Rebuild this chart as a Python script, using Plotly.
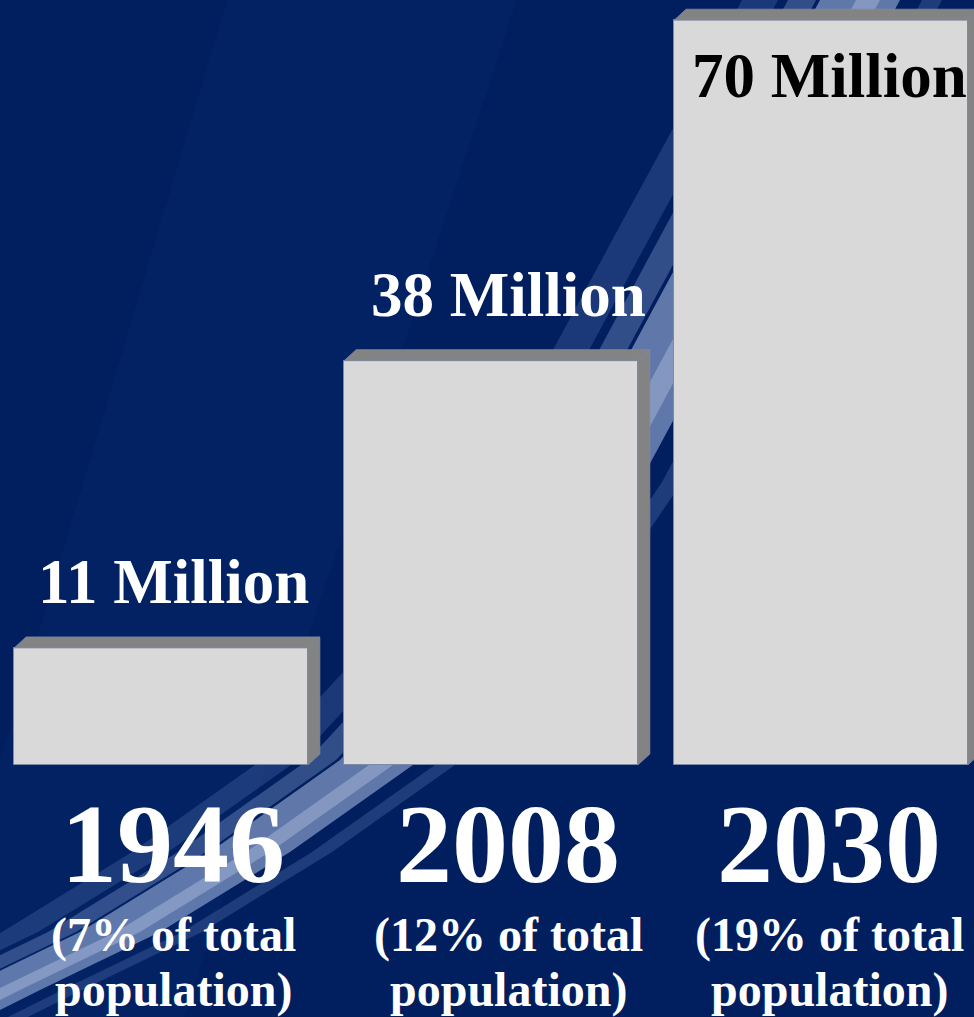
import plotly.graph_objects as go

# ---- data ----
years = ["1946", "2008", "2030"]
values_millions = [11, 38, 70]
value_labels = ["11 Million", "38 Million", "70 Million"]
share_line1 = ["(7% of total", "(12% of total", "(19% of total"]
share_line2 = ["population)", "population)", "population)"]

W, H = 974, 1017
FONT = "Liberation Serif, Times New Roman, serif"
FRONT = "#d9d9d9"
SIDE = "#838383"
BG = "#011f5f"

# axis geometry (pixel scale)
X0_PX, STEP_PX = 161, 330
BASE_PX, PX_PER_UNIT = 765, 10.64
x_range = [-X0_PX / STEP_PX, (W - X0_PX) / STEP_PX]
y_range = [-(H - BASE_PX) / PX_PER_UNIT, BASE_PX / PX_PER_UNIT]
BAR_W = 0.89
DX = 12 / STEP_PX          # depth offset in x units
DY = 11 / PX_PER_UNIT      # depth offset in y units
LABEL_XSHIFT = [12, 17, 8]  # small per-column text nudges (style)

xs = list(range(len(years)))

fig = go.Figure()
fig.add_trace(go.Bar(
    x=xs, y=values_millions, width=BAR_W,
    marker=dict(color=FRONT, line=dict(color="#7d8aa6", width=1)),
    hoverinfo="skip", showlegend=False,
))

shapes = []

def P(px, py):
    return px / W, 1 - py / H

def poly(pts, color):
    d = "M " + " L ".join(f"{a:.4f},{b:.4f}" for a, b in pts) + " Z"
    return dict(type="path", xref="paper", yref="paper", path=d,
                fillcolor=color, line=dict(width=0), layer="below")

def band(center, half_w, color):
    left = [P(x - half_w, y) for x, y in center]
    right = [P(x + half_w, y) for x, y in reversed(center)]
    return poly(left + right, color)

# background swooshes (decoration)
main_c = [(-60, 1020), (0, 990), (120, 932), (250, 852), (380, 760), (500, 630),
          (600, 482), (670, 352), (740, 222), (800, 112), (860, 0), (880, -40)]
shapes.append(poly([P(230, -10), P(520, -10), P(180, 1030), P(-80, 1030)],
                   "rgba(10,45,115,0.22)"))
shapes.append(band([(x - 100, y) for x, y in main_c], 18, "rgba(90,118,180,0.30)"))
shapes.append(band([(x - 58, y) for x, y in main_c], 14, "rgba(120,142,195,0.42)"))
shapes.append(band(main_c, 40, "rgba(140,160,205,0.68)"))
shapes.append(band([(x + 8, y) for x, y in main_c], 12, "rgba(175,190,222,0.45)"))
shapes.append(band([(x + 72, y) for x, y in main_c], 10, "rgba(100,125,185,0.30)"))

# 3D top and side faces for each bar, derived from data
for x, v in zip(xs, values_millions):
    l, r = x - BAR_W / 2, x + BAR_W / 2
    top = f"M {l},{v} L {l+DX},{v+DY} L {r+DX},{v+DY} L {r},{v} Z"
    side = f"M {r},{v} L {r+DX},{v+DY} L {r+DX},{DY} L {r},0 Z"
    for d in (top, side):
        shapes.append(dict(type="path", xref="x", yref="y", path=d,
                           fillcolor=SIDE, line=dict(color="#7d8aa6", width=0.8),
                           layer="above"))

annotations = []
for i, (x, v) in enumerate(zip(xs, values_millions)):
    inside = i == len(xs) - 1
    sx = LABEL_XSHIFT[i]
    annotations.append(dict(
        x=x, y=v, xref="x", yref="y", text=f"<b>{value_labels[i]}</b>",
        showarrow=False, xshift=sx, yshift=-56 if inside else 66,
        yanchor="middle", font=dict(family=FONT, size=63,
                                    color="#000000" if inside else "#ffffff")))
    annotations.append(dict(
        x=x, y=1 - 844 / H, xref="x", yref="paper", text=f"<b>{years[i]}</b>",
        showarrow=False, xshift=sx, yanchor="middle",
        font=dict(family=FONT, size=112, color="#ffffff")))
    annotations.append(dict(
        x=x, y=1 - 935 / H, xref="x", yref="paper", text=f"<b>{share_line1[i]}</b>",
        showarrow=False, xshift=sx, yanchor="middle",
        font=dict(family=FONT, size=48, color="#ffffff")))
    annotations.append(dict(
        x=x, y=1 - 990 / H, xref="x", yref="paper", text=f"<b>{share_line2[i]}</b>",
        showarrow=False, xshift=sx, yanchor="middle",
        font=dict(family=FONT, size=48, color="#ffffff")))

fig.update_layout(
    width=W, height=H,
    margin=dict(l=0, r=0, t=0, b=0),
    paper_bgcolor=BG, plot_bgcolor="rgba(0,0,0,0)",
    xaxis=dict(range=x_range, visible=False, fixedrange=True),
    yaxis=dict(range=y_range, visible=False, fixedrange=True),
    shapes=shapes, annotations=annotations,
    bargap=0, showlegend=False,
)

fig.write_html(
    "out.html",
    config={"displayModeBar": False},
    post_script="document.body.style.margin='0';document.body.style.overflow='hidden';",
)
